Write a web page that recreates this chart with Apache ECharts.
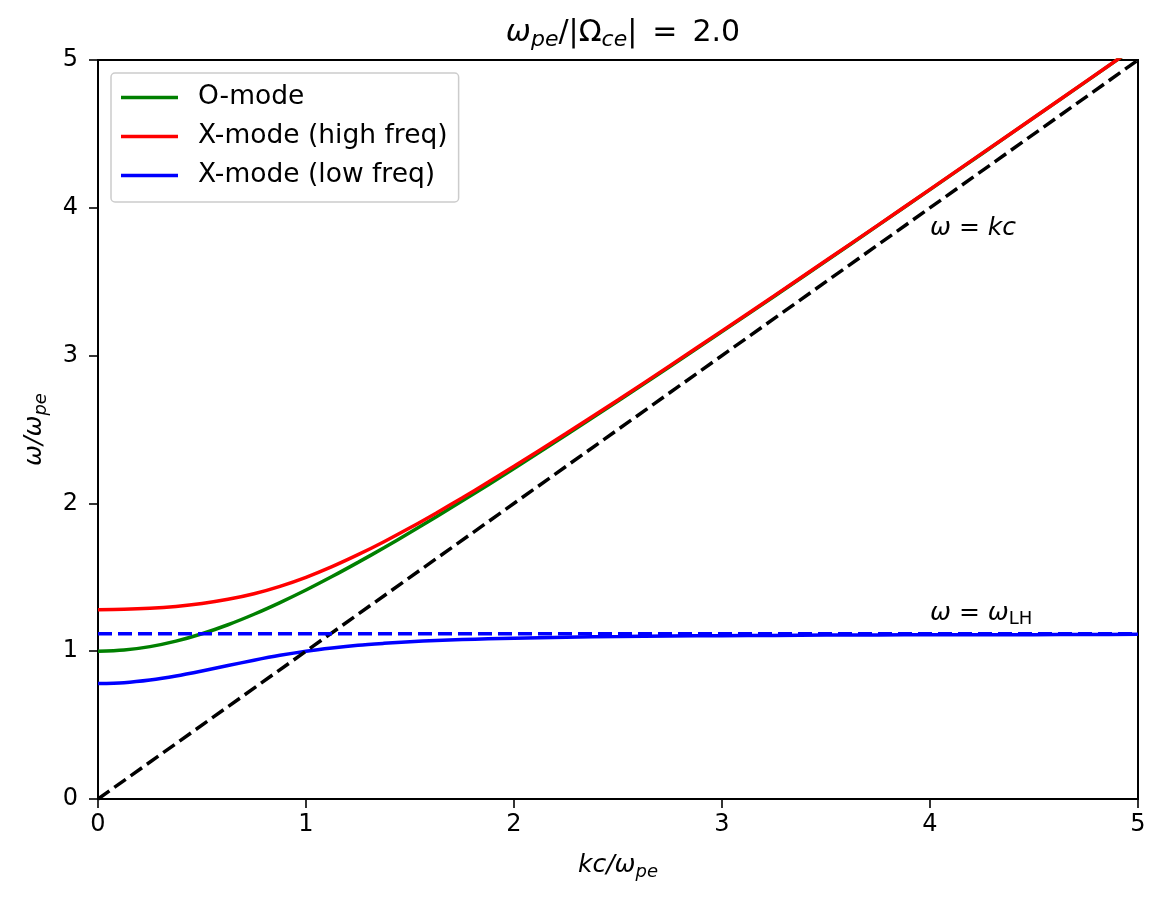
<!DOCTYPE html>
<html>
<head>
<meta charset="utf-8">
<script src="https://cdn.jsdelivr.net/npm/echarts@6/dist/echarts.min.js"></script>
<style>
html, body { margin: 0; padding: 0; background: #fff; }
#chart { width: 1167px; height: 906px; }
</style>
</head>
<body>
<div id="chart"></div>
<script>
// wavenumber kc/wpe
var kValues = [0, 0.125, 0.25, 0.375, 0.5, 0.625, 0.75, 0.875, 1, 1.125, 1.25, 1.375, 1.5, 1.625, 1.75, 1.875, 2,
    2.25, 2.5, 2.75, 3, 3.25, 3.5, 3.75, 4, 4.25, 4.5, 4.75, 5];
// w/wpe
var oMode = [1.000, 1.008, 1.031, 1.068, 1.118, 1.179, 1.250, 1.329, 1.414, 1.505, 1.601, 1.700, 1.803, 1.908, 2.016, 2.125, 2.236,
    2.462, 2.693, 2.926, 3.162, 3.400, 3.640, 3.881, 4.123, 4.366, 4.610, 4.854, 5.099];
var xHigh = [1.281, 1.283, 1.290, 1.303, 1.323, 1.351, 1.389, 1.439, 1.500, 1.572, 1.653, 1.741, 1.835, 1.934, 2.037, 2.143, 2.251,
    2.473, 2.700, 2.932, 3.167, 3.404, 3.643, 3.883, 4.125, 4.368, 4.611, 4.855, 5.100];
var xLow = [0.781, 0.787, 0.805, 0.832, 0.866, 0.903, 0.939, 0.972, 1.000, 1.022, 1.040, 1.053, 1.064, 1.072, 1.079, 1.084, 1.088,
    1.095, 1.099, 1.103, 1.105, 1.107, 1.109, 1.110, 1.111, 1.112, 1.112, 1.113, 1.114];
// reference lines
var lightK = [0, 5];
var lightW = [0, 5];
var hybridLevel = 1.118;

var legendNames = ['O-mode', 'X-mode (high freq)', 'X-mode (low freq)'];

var font = 'DejaVu Sans';

function pairs(xs, ys) {
    var out = [];
    for (var i = 0; i < xs.length; i++) out.push([xs[i], ys[i]]);
    return out;
}

var mathRich = {
    i: { fontFamily: font, fontStyle: 'italic', fontSize: 25, lineHeight: 31, color: '#000' },
    n: { fontFamily: font, fontSize: 25, lineHeight: 31, color: '#000' },
    s: { fontFamily: font, fontStyle: 'italic', fontSize: 18, lineHeight: 18, verticalAlign: 'bottom', color: '#000' },
    r: { fontFamily: font, fontSize: 18, lineHeight: 18, verticalAlign: 'bottom', color: '#000' }
};

var titleRich = {
    i: { fontFamily: font, fontStyle: 'italic', fontWeight: 'normal', fontSize: 30, lineHeight: 36, color: '#000' },
    n: { fontFamily: font, fontWeight: 'normal', fontSize: 30, lineHeight: 36, color: '#000' },
    s: { fontFamily: font, fontStyle: 'italic', fontWeight: 'normal', fontSize: 22, lineHeight: 22, verticalAlign: 'bottom', color: '#000' }
};

var myChart = echarts.init(document.getElementById('chart'));

var option = {
    backgroundColor: '#fff',
    animation: false,
    title: {
        text: '{i|ω}{s|pe}{n|/|Ω}{s|ce}{n||\u2002=\u20022.0}',
        left: 618,
        textAlign: 'center',
        top: 10,
        textStyle: { fontWeight: 'normal', rich: titleRich }
    },
    grid: {
        left: 98, right: 29, top: 60, bottom: 107,
        show: true,
        borderColor: '#000',
        borderWidth: 2,
        backgroundColor: 'transparent'
    },
    legend: {
        data: legendNames,
        orient: 'vertical',
        left: 111,
        top: 73,
        icon: 'rect',
        itemWidth: 57,
        itemHeight: 3.5,
        itemGap: 12,
        padding: [11, 11, 13, 10],
        backgroundColor: 'rgba(255,255,255,0.8)',
        borderColor: '#cccccc',
        borderWidth: 1.5,
        borderRadius: 4,
        textStyle: {
            fontFamily: font,
            fontSize: 26.5,
            lineHeight: 26,
            color: '#000',
            padding: [0, 0, 0, 15]
        }
    },
    xAxis: {
        type: 'value',
        min: 0, max: 5, interval: 1,
        name: '{i|kc/ω}{s|pe}',
        nameLocation: 'middle',
        nameGap: 51,
        nameTextStyle: { rich: mathRich },
        axisLine: { show: false },
        axisTick: { show: true, length: 9, lineStyle: { color: '#000', width: 1.6 } },
        axisLabel: { fontFamily: font, fontSize: 24, color: '#000', margin: 14 },
        splitLine: { show: false }
    },
    yAxis: {
        type: 'value',
        min: 0, max: 5, interval: 1,
        name: '{i|ω/ω}{s|pe}',
        nameLocation: 'middle',
        nameRotate: 90,
        nameGap: 48,
        nameTextStyle: { rich: mathRich },
        axisLine: { show: false },
        axisTick: { show: true, length: 9, lineStyle: { color: '#000', width: 1.6 } },
        axisLabel: { fontFamily: font, fontSize: 24, color: '#000', margin: 20 },
        splitLine: { show: false }
    },
    series: [
        {
            name: 'O-mode', type: 'line', data: pairs(kValues, oMode),
            smooth: 0.3, showSymbol: false, symbol: 'none',
            lineStyle: { color: '#008000', width: 3.5 }, itemStyle: { color: '#008000' }
        },
        {
            name: 'X-mode (high freq)', type: 'line', data: pairs(kValues, xHigh),
            smooth: 0.3, showSymbol: false, symbol: 'none',
            lineStyle: { color: '#ff0000', width: 3.5 }, itemStyle: { color: '#ff0000' }
        },
        {
            name: 'X-mode (low freq)', type: 'line', data: pairs(kValues, xLow),
            smooth: 0.3, showSymbol: false, symbol: 'none',
            lineStyle: { color: '#0000ff', width: 3.5 }, itemStyle: { color: '#0000ff' }
        },
        {
            name: 'light', type: 'line', data: pairs(lightK, lightW),
            showSymbol: false, symbol: 'none',
            lineStyle: { color: '#000', width: 3.5, type: [14, 6] }
        },
        {
            name: 'hybrid', type: 'line',
            data: [[0, hybridLevel], [5, hybridLevel]],
            showSymbol: false, symbol: 'none',
            lineStyle: { color: '#0000ff', width: 3.5, type: [14, 6] }
        }
    ]
};

myChart.setOption(option);

// text annotations placed at data coordinates (baseline at the point)
var notes = [
    { at: [4, 3.8], text: '{i|ω}{n| = }{i|kc}' },
    { at: [4, 1.2], text: '{i|ω}{n| = }{i|ω}{r|LH}' }
];
var graphics = notes.map(function(n) {
    var p = myChart.convertToPixel({ gridIndex: 0 }, n.at);
    return {
        type: 'text',
        x: p[0],
        y: p[1] + 7,
        z: 100,
        style: {
            text: n.text,
            rich: mathRich,
            align: 'left',
            verticalAlign: 'bottom'
        }
    };
});
myChart.setOption({ graphic: graphics });
</script>
</body>
</html>
